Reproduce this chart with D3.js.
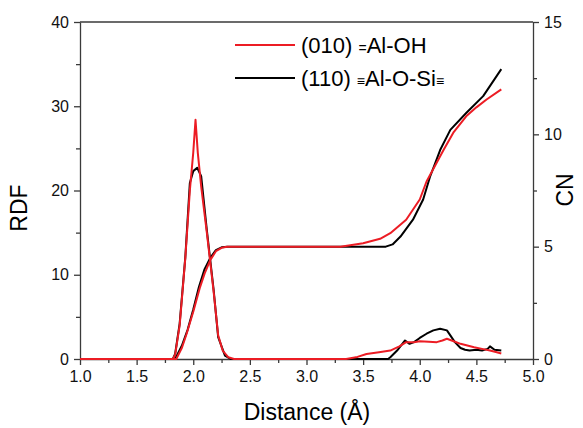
<!DOCTYPE html>
<html>
<head>
<meta charset="utf-8">
<script src="https://cdn.jsdelivr.net/npm/d3@7"></script>
<style>
  body { margin: 0; background: #fff; }
  svg { display: block; font-family: "Liberation Sans", Arial, sans-serif; }
  .axis path, .axis line { stroke: #3a3a3a; stroke-width: 1.3; }
  .axis text { font-size: 16px; fill: #111; }
  .line { fill: none; stroke-width: 2; stroke-linejoin: round; }
</style>
</head>
<body>
<div id="chart"></div>
<script>
// RDF curves (left axis)
const rdf010X = [1.0, 1.82, 1.84, 1.88, 1.93, 1.97, 2.00, 2.02, 2.04, 2.07, 2.12, 2.18, 2.22, 2.26, 2.31, 2.36,
    3.35, 3.45, 3.53, 3.64, 3.74, 3.82, 3.88, 3.95, 4.00, 4.08, 4.15, 4.20, 4.24, 4.30, 4.36, 4.42, 4.48, 4.55, 4.62, 4.68, 4.72];
const rdf010Y = [0, 0, 0.5, 4.0, 12.0, 20.0, 24.5, 28.4, 24.5, 20.5, 15.0, 8.0, 2.8, 1.0, 0.2, 0,
    0, 0.25, 0.6, 0.8, 1.0, 1.5, 2.0, 2.0, 2.1, 2.05, 2.0, 2.2, 2.4, 2.1, 1.8, 1.6, 1.4, 1.2, 1.0, 0.8, 0.65];

const rdf110X = [1.0, 1.82, 1.84, 1.88, 1.93, 1.97, 2.00, 2.035, 2.07, 2.12, 2.18, 2.22, 2.28, 2.33,
    3.72, 3.74, 3.80, 3.87, 3.91, 3.95, 4.00, 4.06, 4.12, 4.18, 4.24, 4.27, 4.31, 4.36, 4.40, 4.44, 4.50, 4.55, 4.60, 4.62, 4.66, 4.72];
const rdf110Y = [0, 0, 0.6, 4.2, 12.1, 20.9, 22.3, 22.7, 21.7, 15.3, 8.2, 2.6, 0.4, 0,
    0, 0.2, 1.0, 2.2, 1.8, 2.0, 2.5, 3.0, 3.4, 3.6, 3.4, 2.8, 2.0, 1.3, 1.1, 1.0, 1.1, 1.0, 1.2, 1.5, 1.1, 1.0];

// Coordination numbers (right axis)
const cn010X = [1.0, 1.85, 1.90, 1.94, 2.00, 2.06, 2.10, 2.15, 2.20, 2.25, 2.30,
    3.30, 3.50, 3.65, 3.74, 3.88, 4.00, 4.06, 4.21, 4.30, 4.41, 4.50, 4.59, 4.72];
const cn010Y = [0, 0, 0.5, 1.1, 2.1, 3.2, 3.8, 4.4, 4.8, 4.95, 5.0,
    5.0, 5.15, 5.35, 5.6, 6.2, 7.1, 7.9, 9.3, 10.1, 10.8, 11.2, 11.55, 12.0];

const cn110X = [1.0, 1.84, 1.90, 1.95, 2.00, 2.05, 2.10, 2.15, 2.20, 2.25, 2.30,
    3.70, 3.76, 3.83, 3.94, 4.03, 4.09, 4.18, 4.27, 4.41, 4.56, 4.72];
const cn110Y = [0, 0, 0.6, 1.3, 2.2, 3.2, 4.0, 4.5, 4.85, 4.97, 5.0,
    5.0, 5.1, 5.45, 6.2, 7.1, 8.1, 9.3, 10.2, 10.95, 11.7, 12.9];

const xTicks = [1.0, 1.5, 2.0, 2.5, 3.0, 3.5, 4.0, 4.5, 5.0];
const rdfTicks = [0, 10, 20, 30, 40];
const cnTicks = [0, 5, 10, 15];

const redColor = '#ec1c24';
const blackColor = '#000000';

const margin = {top: 22, right: 50, bottom: 70, left: 80};
const W = 583, H = 428;
const width = W - margin.left - margin.right;
const height = H - margin.top - margin.bottom + 1;

const svg = d3.select('#chart').append('svg')
    .attr('width', W)
    .attr('height', H);

const g = svg.append('g')
    .attr('transform', `translate(${margin.left},${margin.top})`);

const xScale = d3.scaleLinear().domain([1, 5]).range([0, width]);
const yLeft = d3.scaleLinear().domain([0, 40]).range([height, 0]);
const yRight = d3.scaleLinear().domain([0, 15]).range([height, 0]);

function zip(xs, ys) {
    return xs.map((x, i) => ({x: x, y: ys[i]}));
}

// minor ticks first
g.append('g')
    .attr('class', 'axis')
    .attr('transform', `translate(0,${height})`)
    .call(d3.axisBottom(xScale).tickValues(d3.range(1.25, 5, 0.5)).tickSize(4).tickFormat(''))
    .select('.domain').remove();
g.append('g')
    .attr('class', 'axis')
    .call(d3.axisLeft(yLeft).tickValues([5, 15, 25, 35]).tickSize(4).tickFormat(''))
    .select('.domain').remove();
g.append('g')
    .attr('class', 'axis')
    .attr('transform', `translate(${width},0)`)
    .call(d3.axisRight(yRight).tickValues([2.5, 7.5, 12.5]).tickSize(4).tickFormat(''))
    .select('.domain').remove();

// major axes
g.append('g')
    .attr('class', 'axis')
    .attr('transform', `translate(0,${height})`)
    .call(d3.axisBottom(xScale).tickValues(xTicks).tickSize(6).tickSizeOuter(0).tickPadding(6)
        .tickFormat(d3.format('.1f')));

g.append('g')
    .attr('class', 'axis')
    .call(d3.axisLeft(yLeft).tickValues(rdfTicks).tickSize(6).tickSizeOuter(0).tickPadding(5));

g.append('g')
    .attr('class', 'axis')
    .attr('transform', `translate(${width},0)`)
    .call(d3.axisRight(yRight).tickValues(cnTicks).tickSize(6).tickSizeOuter(0).tickPadding(5));

// top frame line
g.append('line')
    .attr('x1', 0).attr('x2', width)
    .attr('y1', 0).attr('y2', 0)
    .attr('stroke', '#3a3a3a')
    .attr('stroke-width', 1.3);

const lineLeft = d3.line().x(d => xScale(d.x)).y(d => yLeft(d.y));
const lineRight = d3.line().x(d => xScale(d.x)).y(d => yRight(d.y));

g.append('path').datum(zip(rdf110X, rdf110Y)).attr('class', 'line').attr('d', lineLeft).style('stroke', blackColor);
g.append('path').datum(zip(cn110X, cn110Y)).attr('class', 'line').attr('d', lineRight).style('stroke', blackColor);
g.append('path').datum(zip(rdf010X, rdf010Y)).attr('class', 'line').attr('d', lineLeft).style('stroke', redColor);
g.append('path').datum(zip(cn010X, cn010Y)).attr('class', 'line').attr('d', lineRight).style('stroke', redColor);

// axis titles
svg.append('text')
    .attr('transform', 'translate(27,208) rotate(-90)')
    .attr('text-anchor', 'middle')
    .style('font-size', '23px')
    .text('RDF');

svg.append('text')
    .attr('transform', 'translate(573,190) rotate(-90)')
    .attr('text-anchor', 'middle')
    .style('font-size', '23px')
    .text('CN');

svg.append('text')
    .attr('x', 307)
    .attr('y', 420)
    .attr('text-anchor', 'middle')
    .style('font-size', '23px')
    .text('Distance (Å)');

// legend
const legendItems = [
    {color: redColor, pre: '(010) ', sym: '=', post: 'Al-OH', tail: ''},
    {color: blackColor, pre: '(110) ', sym: '≡', post: 'Al-O-Si', tail: '≡'}
];

const legend = svg.append('g').attr('transform', 'translate(235,45)');
legendItems.forEach((item, i) => {
    const row = legend.append('g').attr('transform', `translate(0,${i * 33})`);
    row.append('line')
        .attr('x1', 0).attr('x2', 60)
        .attr('y1', 0).attr('y2', 0)
        .attr('stroke', item.color)
        .attr('stroke-width', 2);
    const t = row.append('text')
        .attr('x', 66)
        .attr('y', 8)
        .style('font-size', '22px');
    t.append('tspan').text(item.pre);
    t.append('tspan').style('font-size', '14px').text(item.sym);
    t.append('tspan').text(item.post);
    if (item.tail) t.append('tspan').style('font-size', '14px').text(item.tail);
});
</script>
</body>
</html>
